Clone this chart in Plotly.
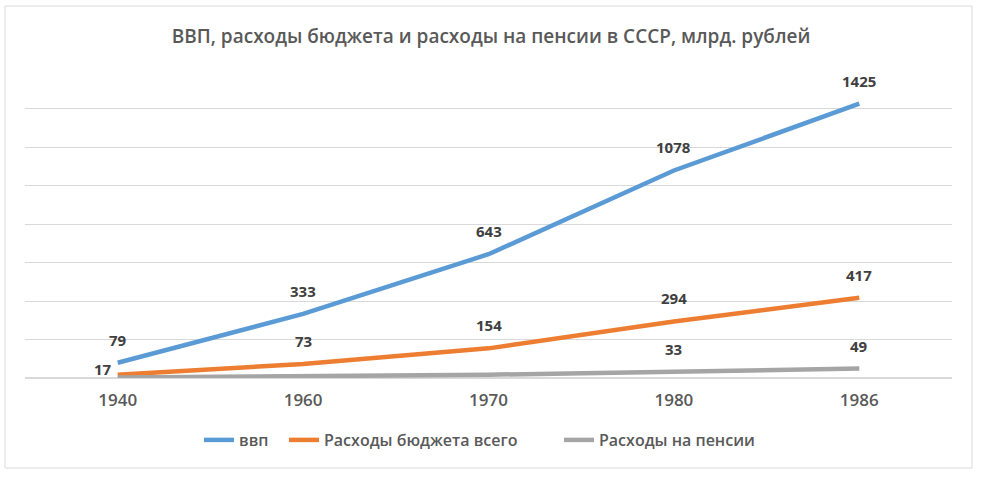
import plotly.graph_objects as go

years = ["1940", "1960", "1970", "1980", "1986"]
gdp = [79, 333, 643, 1078, 1425]
budget = [17, 73, 154, 294, 417]
pension = [2, 8, 17, 33, 49]
pension_labels = [None, None, None, "33", "49"]

names = ["ввп", "Расходы бюджета всего", "Расходы на пенсии"]
colors = ["#5b9bd5", "#ed7d31", "#a5a5a5"]
title = "ВВП, расходы бюджета и расходы на пенсии в СССР, млрд. рублей"

FONT = "Open Sans"
xpos = list(range(len(years)))

# plot area in page pixels
PL, PR, PT, PB = 25, 952, 70, 378
PW, PH = PR - PL, PB - PT

def px_x(p):
    return (p - PL) / PW

def px_y(p):
    return (PB - p) / PH

legend_ids = ["legend", "legend2", "legend3"]
legend_starts = [205, 290, 565]

fig = go.Figure()
series = [gdp, budget, pension]
for vals, name, col, lid in zip(series, names, colors, legend_ids):
    fig.add_trace(go.Scatter(x=xpos, y=vals, mode="lines", name=name, legend=lid,
                             showlegend=True, line=dict(color=col, width=4.5)))

annotations = []
label_sets = [[str(v) for v in gdp], [str(v) for v in budget], pension_labels]
for si, (vals, labs) in enumerate(zip(series, label_sets)):
    for xi, (v, lab) in enumerate(zip(vals, labs)):
        if lab is None:
            continue
        xs, ys = 0, 23
        if si == 1 and xi == 0:
            xs, ys = -15, 6
        annotations.append(dict(x=xpos[xi], y=v, xref="x", yref="y", text=lab,
                                showarrow=False, xshift=xs, yshift=ys,
                                font=dict(family=FONT, size=15, color="#404040", weight=700)))

legend_common = dict(orientation="h", yanchor="middle", y=px_y(440), xanchor="left",
                     font=dict(family=FONT, size=16, color="#595959", weight=600),
                     itemwidth=30, borderwidth=0, bgcolor="rgba(0,0,0,0)")
legends = {}
for lid, start in zip(legend_ids, legend_starts):
    legends[lid] = dict(legend_common, x=px_x(start - 6))

fig.update_layout(
    width=982, height=477,
    showlegend=True,
    margin=dict(l=PL, r=982 - PR, t=PT, b=477 - PB),
    paper_bgcolor="white", plot_bgcolor="white",
    title=dict(text=title, x=0.5, xanchor="center", y=1 - 36 / 477, yanchor="middle",
               font=dict(family=FONT, size=19, color="#595959", weight=600)),
    xaxis=dict(range=[-0.5, len(years) - 0.5], tickvals=xpos, ticktext=years,
               showgrid=False, showline=False, zeroline=False, ticks="",
               ticklabelstandoff=10,
               tickfont=dict(family=FONT, size=17, color="#595959", weight=600)),
    yaxis=dict(range=[0, 1600], dtick=200, showticklabels=False, showgrid=True,
               gridcolor="#d9d9d9", gridwidth=1, zeroline=True, zerolinecolor="#d9d9d9",
               zerolinewidth=1.5, showline=False),
    annotations=annotations,
    shapes=[dict(type="rect", xref="paper", yref="paper",
                 x0=px_x(5), x1=px_x(972), y0=px_y(468), y1=px_y(6),
                 line=dict(color="#d9d9d9", width=1), fillcolor="rgba(0,0,0,0)",
                 layer="below")],
    **legends,
)
fig.write_html("out.html", config={"displayModeBar": False},
               post_script="document.body.style.margin='0';document.body.style.overflow='hidden';")
